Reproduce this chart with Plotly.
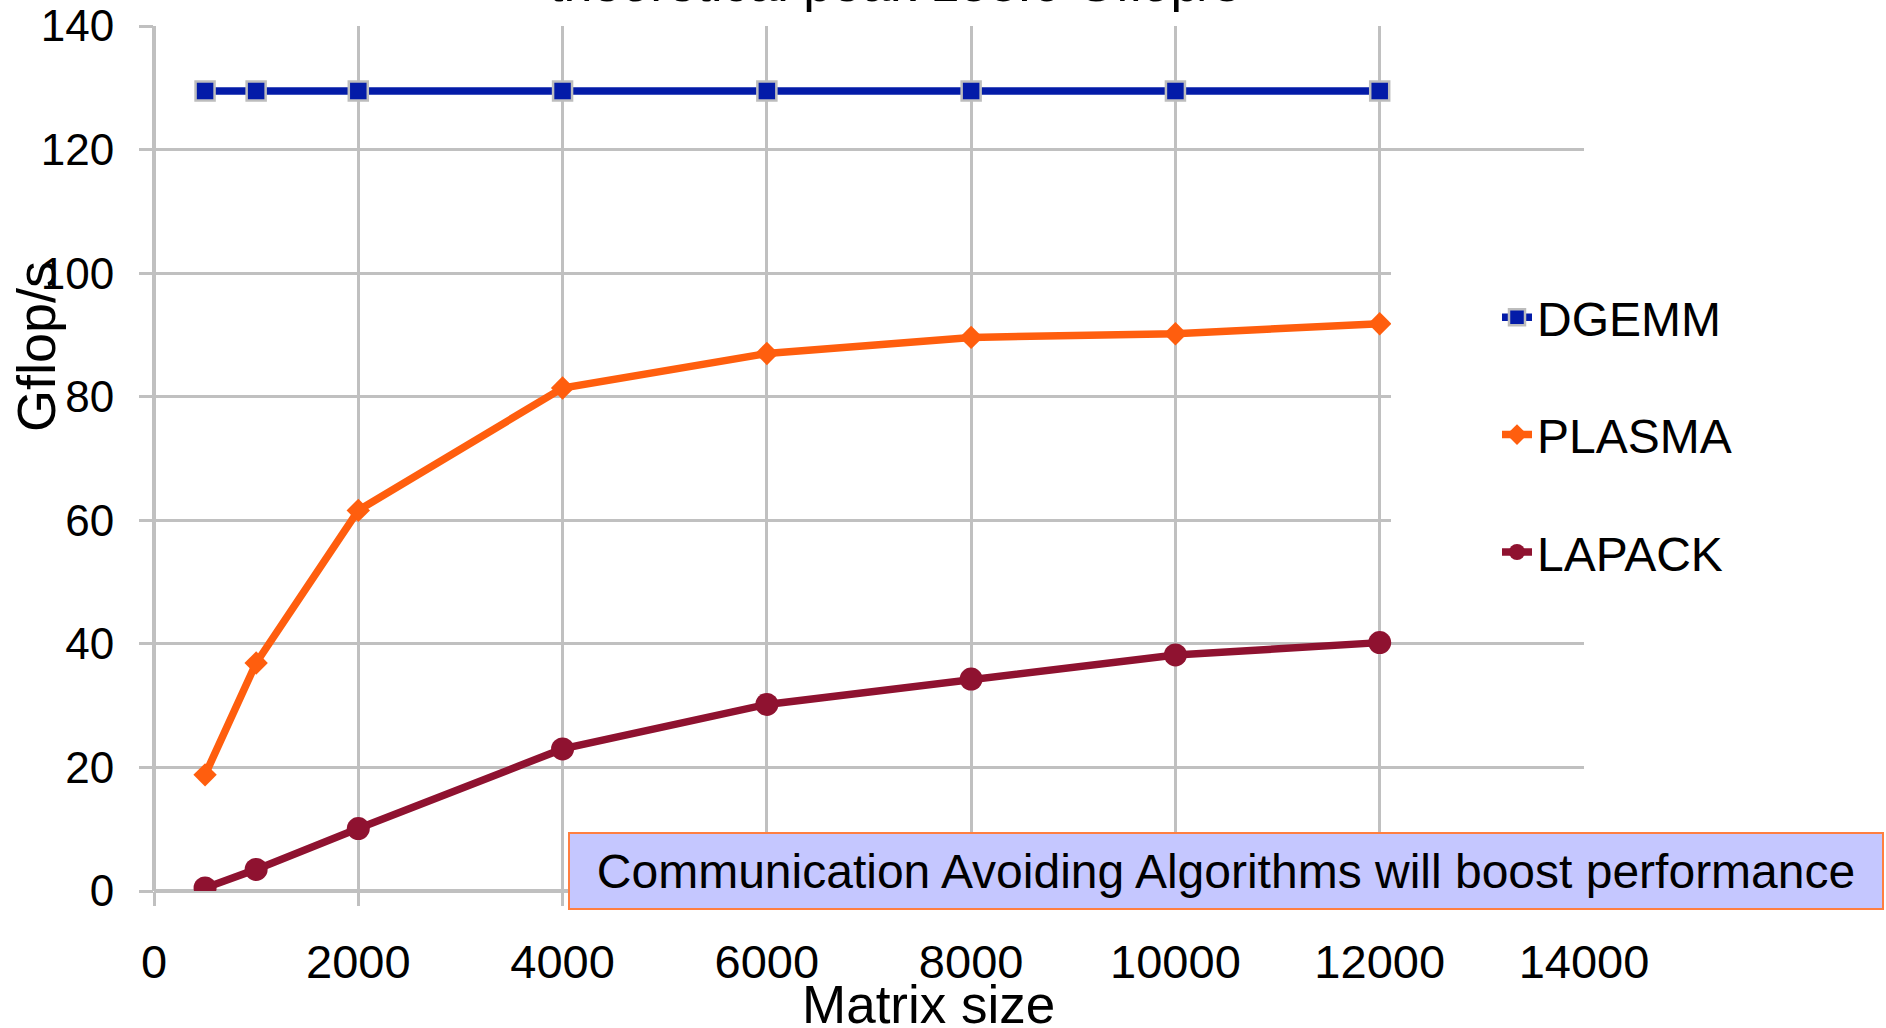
import plotly.graph_objects as go

# Matrix sizes (N) and measured performance in Gflop/s
matrix_size = [500, 1000, 2000, 4000, 6000, 8000, 10000, 12000]
dgemm = [129.5, 129.5, 129.5, 129.5, 129.5, 129.5, 129.5, 129.5]
plasma = [18.8, 36.9, 61.6, 81.4, 87.0, 89.6, 90.2, 91.8]
lapack = [0.5, 3.5, 10.1, 23.0, 30.2, 34.3, 38.2, 40.2]

x_ticks = [0, 2000, 4000, 6000, 8000, 10000, 12000, 14000]
y_ticks = [0, 20, 40, 60, 80, 100, 120, 140]

title_text = "theoretical peak 153.6 Gflop/s"
note_text = "Communication Avoiding Algorithms will boost performance"

FONT = "Liberation Sans, Arial, sans-serif"
GRID = "#C0C0C0"

W, H = 1886, 1028
ML, MR, MT, MB = 154, 302, 26, 137


def fx(px):
    """Page pixel column -> paper x."""
    return (px - ML) / (W - ML - MR)


def fy(py):
    """Page pixel row -> paper y."""
    return (H - MB - py) / (H - MT - MB)


fig = go.Figure()

fig.add_trace(go.Scatter(
    x=matrix_size, y=dgemm, name="DGEMM", mode="lines+markers",
    legendgroup="a",
    line=dict(color="#031BA8", width=7.5),
    marker=dict(symbol="square", size=19, color="#031BA8",
                line=dict(color="#BDBDBD", width=2.5)),
))
fig.add_trace(go.Scatter(
    x=matrix_size, y=plasma, name="PLASMA", mode="lines+markers",
    legendgroup="b",
    line=dict(color="#FF5E0E", width=7.5),
    marker=dict(symbol="diamond", size=18, color="#FF5E0E"),
))
fig.add_trace(go.Scatter(
    x=matrix_size, y=lapack, name="LAPACK", mode="lines+markers",
    legendgroup="c",
    line=dict(color="#8F1230", width=7.5),
    marker=dict(symbol="circle", size=23, color="#8F1230"),
))

axis_common = dict(
    automargin=False,
    showgrid=True, gridcolor=GRID, gridwidth=2.5,
    zeroline=True, zerolinecolor=GRID, zerolinewidth=3.5,
    showline=False,
    ticks="outside", ticklen=14, tickwidth=2.5, tickcolor=GRID,
    ticklabeloverflow="allow",
)

fig.update_xaxes(range=[0, 14000], tickvals=x_ticks,
                 ticktext=[str(v) for v in x_ticks],
                 ticklabelstandoff=16,
                 tickfont=dict(family=FONT, size=47, color="black"),
                 **axis_common)
fig.update_yaxes(range=[0, 140], tickvals=y_ticks,
                 ticktext=[str(v) for v in y_ticks],
                 ticklabelstandoff=16,
                 tickfont=dict(family=FONT, size=44, color="black"),
                 **axis_common)

# white panel behind the legend entries
fig.add_shape(type="rect", xref="paper", yref="paper",
              x0=fx(1391), x1=fx(1900), y0=fy(608), y1=fy(255),
              fillcolor="white", line=dict(width=0), layer="above")

fig.add_annotation(text=title_text, xref="paper", yref="paper",
                   x=fx(894), y=fy(-17), xanchor="center", yanchor="middle",
                   showarrow=False,
                   font=dict(family=FONT, size=52, color="black"))
fig.add_annotation(text="Matrix size", xref="paper", yref="paper",
                   x=fx(928), y=fy(1004), xanchor="center", yanchor="middle",
                   showarrow=False,
                   font=dict(family=FONT, size=53, color="black"))
fig.add_annotation(text="Gflop/s", xref="paper", yref="paper",
                   x=fx(36), y=fy(347), xanchor="center", yanchor="middle",
                   textangle=-90, showarrow=False,
                   font=dict(family=FONT, size=54, color="black"))
fig.add_annotation(text=note_text, xref="paper", yref="paper",
                   x=fx(1226), y=fy(871), xanchor="center", yanchor="middle",
                   showarrow=False, width=1312, height=74, borderpad=0,
                   bgcolor="#C5C7FF", bordercolor="#FF7F40", borderwidth=2,
                   font=dict(family=FONT, size=48, color="black"))

fig.update_layout(
    width=W, height=H,
    margin=dict(l=ML, r=MR, t=MT, b=MB, autoexpand=False),
    paper_bgcolor="white", plot_bgcolor="white",
    showlegend=True,
    legend=dict(x=fx(1497), y=fy(279.5), xanchor="left", yanchor="top",
                bgcolor="rgba(0,0,0,0)", borderwidth=0,
                tracegroupgap=52,
                font=dict(family=FONT, size=48, color="black")),
)

fig.write_html("out.html")
